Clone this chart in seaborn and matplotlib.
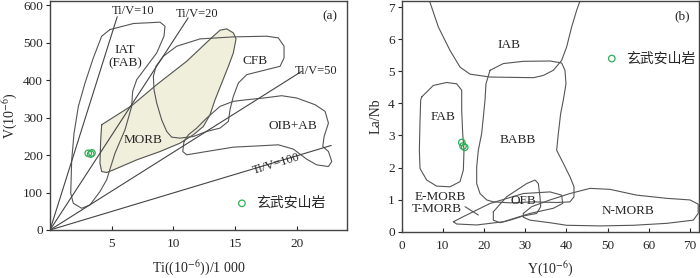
import numpy as np
import pandas as pd
import matplotlib
matplotlib.use("Agg")
import matplotlib.pyplot as plt
import seaborn as sns

# ---- panel (a): Ti-V diagram, outlines ----
iat_x = [4.86, 6.76, 8.92, 9.32, 9.24, 8.65, 7.84, 7.03, 6.70, 6.62, 6.08, 5.27, 4.59, 4.05,
         3.24, 2.57, 1.89, 1.68, 1.76, 1.95, 2.30, 2.84, 3.51, 4.19]
iat_y = [535.7, 551.8, 555.4, 544.6, 517.9, 473.2, 437.5, 401.8, 370.5, 330.4, 267.9, 205.4,
         133.9, 102.7, 67.0, 58.0, 71.4, 98.2, 187.5, 258.9, 330.4, 392.9, 459.8, 517.9]

morb_x = [4.19, 6.62, 8.65, 11.08, 13.24, 13.78, 14.32, 14.86, 15.08, 14.86, 14.46, 13.92,
          13.38, 12.97, 12.43, 11.62, 10.54, 8.92, 7.03, 5.14, 4.59, 4.19, 4.05, 4.11]
morb_y = [281.3, 332.1, 388.4, 450.9, 517.9, 533.9, 537.5, 526.8, 510.7, 473.2, 437.5, 392.9,
          348.2, 308.0, 276.8, 254.5, 232.1, 209.8, 187.5, 160.7, 153.6, 156.3, 178.6, 241.1]

cfb_x = [8.38, 8.59, 9.19, 10.27, 12.16, 14.86, 17.57, 18.51, 18.97, 18.97, 18.65, 17.57,
         15.95, 15.27, 14.86, 14.59, 14.46, 13.78, 12.70, 11.62, 10.54, 9.86, 9.46, 9.05,
         8.65, 8.43]
cfb_y = [410.7, 437.5, 464.3, 491.1, 510.7, 516.1, 517.9, 513.4, 491.1, 459.8, 437.5, 428.6,
         415.2, 392.9, 357.1, 321.4, 290.2, 272.3, 263.4, 250.0, 245.5, 248.2, 263.4, 294.6,
         339.3, 375.0]

oib_x = [10.86, 10.76, 11.08, 12.70, 14.86, 17.03, 18.51, 19.73, 20.81, 21.62, 22.57, 22.84,
         22.57, 22.11, 22.22, 22.57, 22.30, 21.49, 20.00, 18.78, 17.30, 15.95, 14.86, 13.78,
         12.70, 11.89, 11.22]
oib_y = [236.6, 209.8, 200.9, 209.8, 221.4, 225.0, 227.7, 216.1, 189.3, 174.1, 169.6, 183.0,
         209.8, 223.2, 250.0, 285.7, 317.0, 334.8, 352.7, 358.9, 352.7, 348.2, 343.8, 330.4,
         299.1, 272.3, 254.5]

# Ti/V ratio lines: end points of each line
ratio_names = ["Ti/V=10", "Ti/V=20", "Ti/V=50", "Ti/V=100"]
ratio_end_x = [5.45, 11.2, 20.4, 22.8]
ratio_end_y = [570, 567, 424, 226]

sample_a_ti = [3.1, 3.3, 3.4]
sample_a_v = [205, 203, 206]

# ---- panel (b): Y - La/Nb diagram ----
iab_x = [6.6, 8.90, 11.73, 14.16, 16.59, 21.45, 31.97, 34.39, 36.82, 38.84, 40.06, 41.27,
         42.49, 43.46]
iab_y = [7.25, 6.38, 5.65, 5.13, 4.91, 4.82, 4.80, 4.87, 5.03, 5.34, 5.76, 6.38, 6.90, 7.25]

fab_x = [4.86, 7.69, 10.93, 13.35, 14.57, 14.57, 14.81, 15.13, 14.97, 14.16, 11.73, 8.50,
         6.07, 4.45, 4.29, 4.45, 4.61]
fab_y = [4.20, 4.56, 4.65, 4.61, 4.41, 3.79, 3.06, 2.54, 1.92, 1.56, 1.40, 1.42, 1.61, 1.97,
         2.54, 3.47, 4.10]

babb_x = [21.45, 24.68, 29.54, 36.01, 38.84, 39.65, 39.90, 39.25, 38.60, 38.04, 37.63, 39.25,
          40.87, 41.84, 41.84, 40.87, 37.63, 31.97, 26.30, 22.25, 20.64, 19.02, 18.21, 18.21,
          18.61, 19.42, 19.83, 20.23, 20.47]
babb_y = [5.03, 5.24, 5.31, 5.32, 5.26, 5.03, 4.61, 4.10, 3.68, 3.06, 2.54, 2.13, 1.71, 1.40,
          1.09, 0.93, 0.91, 0.93, 0.90, 0.93, 0.99, 1.19, 1.50, 2.02, 2.54, 3.06, 3.58, 4.10,
          4.61]

ofb_x = [22.25, 25.49, 30.35, 32.37, 33.18, 33.58, 33.75, 32.78, 29.54, 26.30, 23.87, 22.25]
ofb_y = [0.62, 1.09, 1.50, 1.61, 1.50, 1.09, 0.78, 0.57, 0.49, 0.36, 0.28, 0.36]

emorb_x = [12.54, 14.97, 21.45, 29.54, 36.01, 38.84, 39.09, 36.82, 31.16, 24.68, 18.21, 13.35]
emorb_y = [0.31, 0.47, 0.88, 1.19, 1.24, 1.14, 0.88, 0.73, 0.57, 0.31, 0.21, 0.24]

nmorb_x = [29.54, 31.56, 36.01, 40.87, 45.72, 50.58, 57.05, 64.34, 70.0, 72.0, 72.0, 70.81,
           64.34, 56.24, 48.15, 40.06, 36.01, 31.16, 29.54]
nmorb_y = [0.57, 0.78, 0.99, 1.19, 1.35, 1.32, 1.14, 1.04, 0.99, 0.86, 0.57, 0.36, 0.26,
           0.20, 0.18, 0.20, 0.28, 0.36, 0.45]

sample_b_y = [14.6, 14.9, 15.3]
sample_b_lanb = [2.78, 2.67, 2.63]

legend_label = "玄武安山岩"

sns.set_theme(style="ticks")
plt.rcParams['font.family'] = ['Liberation Serif', 'Noto Sans CJK SC']
plt.rcParams['mathtext.fontset'] = 'stix'
plt.rcParams['axes.linewidth'] = 1.0
plt.rcParams['axes.edgecolor'] = '#444444'

LINE = '#555555'
GREEN = '#2fae55'
FS = 9.5


def closed(xs, ys):
    return list(xs) + [xs[0]], list(ys) + [ys[0]]


fig = plt.figure(figsize=(7.0, 2.78), dpi=100)
ax1 = fig.add_axes([50 / 700, 48 / 278, 296.7 / 700, 229 / 278])
ax2 = fig.add_axes([401.7 / 700, 46.3 / 278, 297.3 / 700, 230.7 / 278])

# panel (a)
mx, my = closed(morb_x, morb_y)
ax1.fill(mx, my, color='#f0efdc', zorder=1)
ax1.plot(mx, my, color=LINE, lw=0.8, zorder=3)
for xs, ys in [(iat_x, iat_y), (cfb_x, cfb_y), (oib_x, oib_y)]:
    cx, cy = closed(xs, ys)
    ax1.plot(cx, cy, color=LINE, lw=0.8, zorder=3)
for ex, ey in zip(ratio_end_x, ratio_end_y):
    ax1.plot([0, ex], [0, ey], color='#444444', lw=0.8, zorder=3)

ax1.text(6.7, 585, ratio_names[0], fontsize=9, ha='center', va='center')
ax1.text(11.95, 576, ratio_names[1], fontsize=9, ha='center', va='center')
ax1.text(21.6, 424, ratio_names[2], fontsize=9, ha='center', va='center')
ax1.text(18.3, 177, ratio_names[3], fontsize=9, ha='center', va='center', rotation=17)
ax1.text(6.08, 482, "IAT", fontsize=FS, ha='center', va='center')
ax1.text(6.08, 446, "(FAB)", fontsize=FS, ha='center', va='center')
ax1.text(16.6, 451, "CFB", fontsize=FS, ha='center', va='center')
ax1.text(7.57, 241, "MORB", fontsize=FS, ha='center', va='center')
ax1.text(19.7, 277, "OIB+AB", fontsize=FS, ha='center', va='center')
ax1.text(0.97, 0.935, "(a)", transform=ax1.transAxes, fontsize=FS, ha='right', va='center')

sns.scatterplot(x=sample_a_ti, y=sample_a_v, ax=ax1, marker='o', s=22, facecolors='none',
                edgecolor=GREEN, linewidth=0.9, label=legend_label, zorder=5)
leg = ax1.legend(loc='center left', bbox_to_anchor=(0.6, 0.118), frameon=False, fontsize=10,
                 handlelength=1.2, handletextpad=0.4, borderaxespad=0)
for t in leg.get_texts():
    t.set_family(['Noto Sans CJK SC'])

ax1.set_xlim(0, 24.05)
ax1.set_ylim(0, 612)
ax1.set_xticks([5, 10, 15, 20])
ax1.set_yticks(range(0, 601, 100))
ax1.set_xlabel("Ti((10$^{-6}$))/1 000", fontsize=10, labelpad=6)
ax1.set_ylabel("V(10$^{-6}$)", fontsize=10, labelpad=2)

# panel (b)
ax2.plot(iab_x, iab_y, color=LINE, lw=0.8)
for xs, ys in [(fab_x, fab_y), (babb_x, babb_y), (ofb_x, ofb_y), (emorb_x, emorb_y),
               (nmorb_x, nmorb_y)]:
    cx, cy = closed(xs, ys)
    ax2.plot(cx, cy, color=LINE, lw=0.8)
ax2.plot([15.38, 18.61], [0.78, 0.52], color=LINE, lw=0.8)

ax2.text(26.1, 5.81, "IAB", fontsize=FS, ha='center', va='center')
ax2.text(10.0, 3.56, "FAB", fontsize=FS, ha='center', va='center')
ax2.text(28.2, 2.87, "BABB", fontsize=FS, ha='center', va='center')
ax2.text(9.3, 1.07, "E-MORB", fontsize=FS, ha='center', va='center')
ax2.text(8.5, 0.71, "T-MORB", fontsize=FS, ha='center', va='center')
ax2.text(29.5, 0.96, "OFB", fontsize=FS, ha='center', va='center')
ax2.text(55.0, 0.65, "N-MORB", fontsize=FS, ha='center', va='center')
ax2.text(0.97, 0.935, "(b)", transform=ax2.transAxes, fontsize=FS, ha='right', va='center')

sns.scatterplot(x=sample_b_y, y=sample_b_lanb, ax=ax2, marker='o', s=22, facecolors='none',
                edgecolor=GREEN, linewidth=0.9, label=legend_label, zorder=5)
leg2 = ax2.legend(loc='center left', bbox_to_anchor=(0.66, 0.752), frameon=False, fontsize=10,
                  handlelength=1.2, handletextpad=0.4, borderaxespad=0)
for t in leg2.get_texts():
    t.set_family(['Noto Sans CJK SC'])

ax2.set_xlim(0, 72.2)
ax2.set_ylim(0, 7.19)
ax2.set_xticks(range(0, 71, 10))
ax2.set_yticks(range(0, 8))
ax2.set_xlabel("Y(10$^{-6}$)", fontsize=10, labelpad=6)
ax2.set_ylabel("La/Nb", fontsize=10, labelpad=4)

for ax in (ax1, ax2):
    ax.tick_params(axis='x', direction='in', length=3, width=0.8, labelsize=9.5, pad=6)
    ax.tick_params(axis='y', direction='out', length=3, width=0.8, labelsize=9.5, pad=2)
    for s in ax.spines.values():
        s.set_visible(True)

fig.savefig("out.png", dpi=100)
